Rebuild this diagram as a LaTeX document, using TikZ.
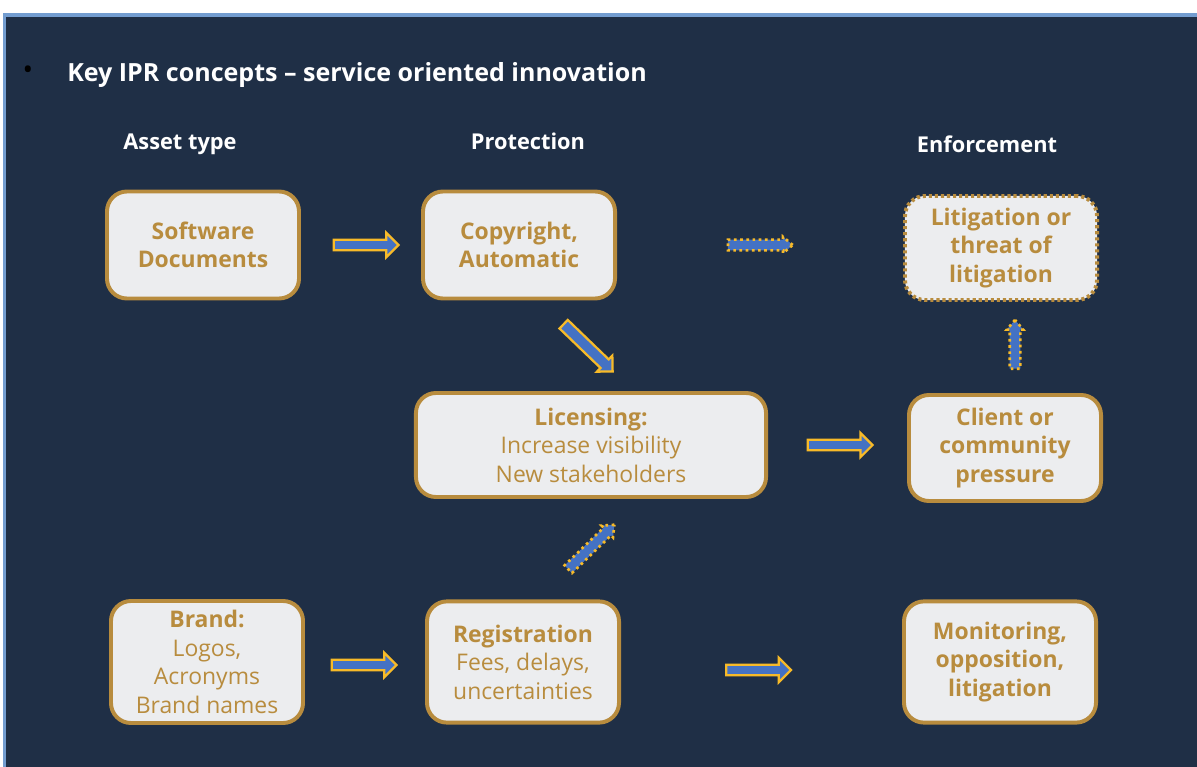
\documentclass[tikz,border=0pt]{standalone}
\usepackage{fontspec}
\setmainfont{Open Sans}
\usepackage{tikz}
\usetikzlibrary{shapes.arrows, positioning, calc}
\definecolor{pageBg}{RGB}{31, 47, 70}
\definecolor{frameBlue}{RGB}{115, 157, 208}
\definecolor{goldFg}{RGB}{184, 140, 62}
\definecolor{boxBg}{RGB}{236, 237, 239}
\definecolor{arrowFill}{RGB}{68, 114, 196}
\definecolor{arrowEdge}{RGB}{247, 186, 40}
\newcommand{\boxFont}{\fontsize{16.3}{20.2}\selectfont}
\tikzstyle{basic} = [rectangle, rounded corners=0.5cm, draw=goldFg, line width=2.8pt, fill=boxBg, text=goldFg, align=center, font=\boxFont, minimum width=4.8cm, inner sep=0pt]
\tikzstyle{dotstyle} = [line width=2.8pt, dash pattern=on 2.2pt off 2.1pt]
\tikzstyle{header} = [text=white, font=\fontsize{15.5}{19}\selectfont\bfseries, anchor=base]
\tikzstyle{blockarrow} = [single arrow, draw=arrowEdge, fill=arrowFill, line width=1.6pt, inner sep=0.105cm, single arrow head extend=0.17cm, minimum height=1.62cm, sloped, allow upside down]
\tikzstyle{thinarrow} = [inner sep=0.1cm, single arrow head extend=0.07cm, single arrow tip angle=80, line width=1.9pt, dash pattern=on 1.9pt off 2.5pt]

\begin{document}
\begin{tikzpicture}[x=0.025cm, y=-0.025cm]

\useasboundingbox (0,0) rectangle (1197,767);
\fill[white] (0,0) rectangle (1197,767);
\fill[frameBlue] (3,13) rectangle (1197,767);
\fill[pageBg] (6,17) rectangle (1197,767);

\node(bullet) [text=black, font=\fontsize{20}{20}\selectfont] at (28,73) {•};
\node(title) [anchor=base west, inner sep=0pt, text=white, font=\fontsize{17.8}{22}\selectfont\bfseries] at (67,82) {Key IPR concepts – service oriented innovation};

\node(hAsset) [header] at (180,150) {Asset type};
\node(hProt) [header] at (528,150) {Protection};
\node(hEnf) [header] at (987,153) {Enforcement};

\node (soft) [basic, minimum height=2.675cm] at (203,245) {\bfseries Software\\\bfseries Documents};
\node (copy) [basic, minimum height=2.675cm] at (519,245) {\bfseries Copyright,\\\bfseries Automatic};
\node (litig) [basic, dotstyle, minimum height=2.6cm] at (1001,248) {\bfseries Litigation or\\\bfseries threat of\\\bfseries litigation};

\node (lic) [basic, minimum width=8.75cm, minimum height=2.6cm] at (591,445) {\bfseries Licensing:\\Increase visibility\\New stakeholders};
\node (client) [basic, minimum height=2.65cm] at (1005,448) {\bfseries Client or\\\bfseries community\\\bfseries pressure};

\node (brand) [basic, minimum height=3.05cm] at (207,662) {\bfseries Brand:\\Logos,\\Acronyms\\Brand names};
\node (reg) [basic, minimum height=3.03cm] at (523,662) {\bfseries Registration\\Fees, delays,\\uncertainties};
\node (monit) [basic, minimum height=3.03cm] at (1000,662) {\bfseries Monitoring,\\\bfseries opposition,\\\bfseries litigation};

% block arrows between the boxes
\path (soft.east) -- node[blockarrow, pos=0.52] (arr1) {} (copy.west);
\path (copy.east) -- node[blockarrow, thinarrow, pos=0.49] (arr2) {} (litig.west |- copy.east);
\path ([xshift=0.5cm]copy.south) -- node[blockarrow, inner sep=0.12cm, single arrow head extend=0.13cm, minimum height=1.7cm] (arr3) {} ([xshift=1.05cm]lic.north);
\path ([yshift=-0.075cm]brand.east) -- node[blockarrow, pos=0.47] (arr4) {} ([yshift=-0.075cm]reg.west);
\path ([xshift=0.35cm]reg.north) -- node[blockarrow, thinarrow, minimum height=1.6cm] (arr5) {} ([xshift=1.25cm]lic.south);
\path (lic.east) -- node[blockarrow, pos=0.5] (arr6) {} (client.west |- lic.east);
\path ([xshift=0.25cm]client.north) -- node[blockarrow, thinarrow, minimum height=1.22cm] (arr7) {} ([xshift=0.35cm]litig.south);
\path ([yshift=-0.2cm]reg.east) -- node[blockarrow, pos=0.48] (arr8) {} ([yshift=-0.2cm]monit.west);

\end{tikzpicture}
\end{document}
